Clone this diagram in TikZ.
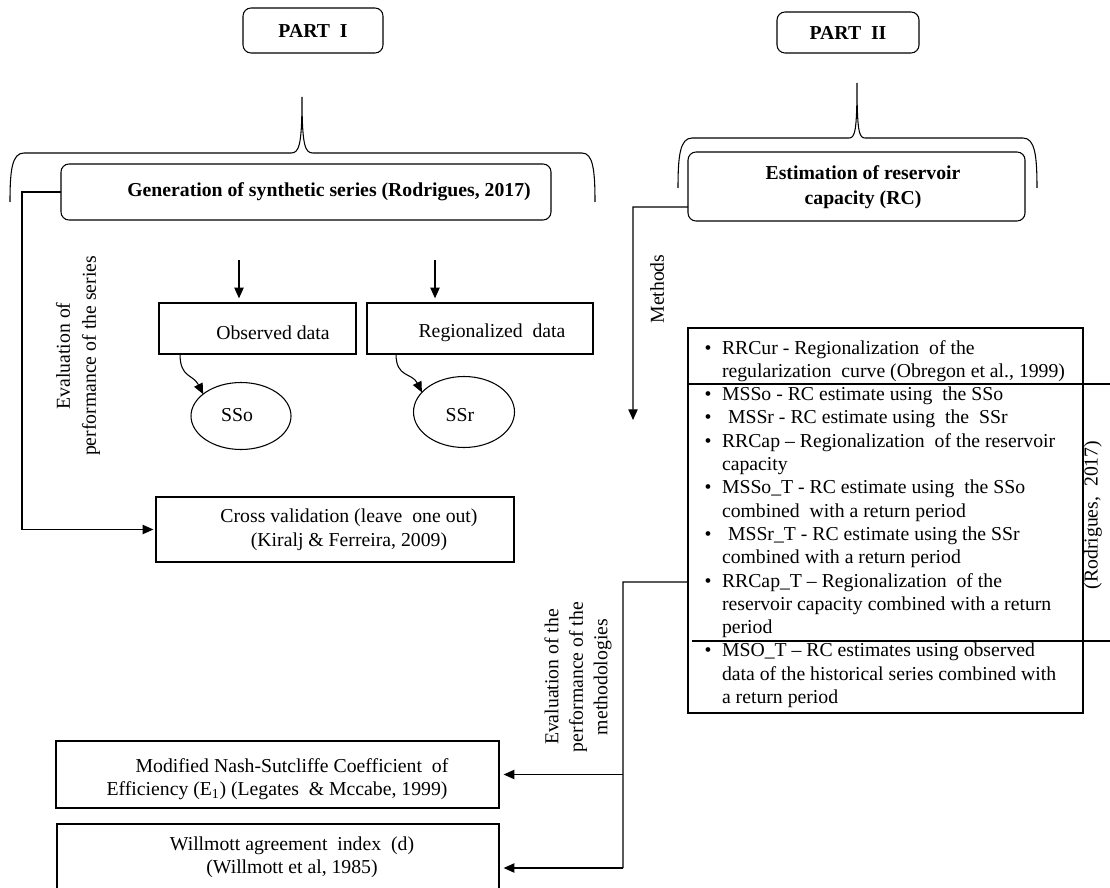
\documentclass[tikz,border=0pt]{standalone}
\usepackage{fontspec}
\setmainfont{Liberation Serif}
\usetikzlibrary{arrows.meta,shapes.geometric,calc}
\tikzset{
  every node/.style={font=\fontsize{14.8}{17.5}\selectfont, inner sep=0pt, outer sep=0pt},
  rbox/.style={draw, rounded corners=6pt, line width=0.8pt},
  sbox/.style={draw, line width=0.8pt},
  oval/.style={draw, ellipse, line width=0.8pt},
  conn/.style={line width=0.8pt},
  arr/.style={line width=0.8pt, -{Triangle[length=8pt,width=7pt]}},
  bracepath/.style={line width=0.8pt},
  bul/.style={anchor=base},
  lin/.style={anchor=base west},
}
\begin{document}
\begin{tikzpicture}[x=0.75pt,y=-0.75pt]
\useasboundingbox (0,0) rectangle (1110,888);

% ---- top boxes
\node[rbox, minimum width=105pt, minimum height=33.75pt] (p1) at (313,30.5) {\textbf{PART\ \ I}};
\node[rbox, minimum width=106.5pt, minimum height=30.75pt] (p2) at (848,32.5) {\textbf{PART\ \ II}};

% ---- braces
\draw[bracepath] (10,202) .. controls (10,170) and (12,153) .. (24,153) -- (291,153)
   .. controls (299,153) and (302,146) .. (302,97)
   .. controls (302,146) and (305,153) .. (313,153) -- (582,153)
   .. controls (593,153) and (595,170) .. (595,202);
\draw[bracepath] (678,188) .. controls (678,156) and (680,138) .. (692,138) -- (849,138)
   .. controls (855,138) and (857,131) .. (857,83)
   .. controls (857,131) and (859,138) .. (865,138) -- (1023,138)
   .. controls (1035,138) and (1037,156) .. (1037,188);

% ---- part I
\node[rbox, minimum width=367.5pt, minimum height=42pt] (gen) at (306,192) {};
\node (gentxt) at (329,192) {\textbf{Generation of synthetic series (Rodrigues, 2017)}};

\node[sbox, minimum width=147.75pt, minimum height=38.25pt] (obs) at (257.5,328.5) {};
\node (obstxt) at (273,333) {Observed data};
\node[sbox, minimum width=169.5pt, minimum height=38.25pt] (reg) at (480,328.5) {};
\node (regtxt) at (492,333) {Regionalized\ \ data};

\node[oval, minimum width=75pt, minimum height=50.25pt] (sso) at (241,416) {};
\node (ssotxt) at (237,415) {SSo};
\node[oval, minimum width=75.75pt, minimum height=53.25pt] (ssr) at (464,412) {};
\node (ssrtxt) at (460,415) {SSr};

\coordinate (a1) at (239,260);
\coordinate (a2) at (435,260);
\draw[arr, shorten >=3.5pt] (a1) -- (a1 |- obs.north);
\draw[arr, shorten >=3.5pt] (a2) -- (a2 |- reg.north);

\draw[arr] ([xshift=15.75pt]obs.south west) .. controls +(0,24) and +(-10,-20) .. (sso.150);
\draw[arr] ([xshift=21.75pt]reg.south west) .. controls +(0,24) and +(-10,-20) .. (ssr.155);

\node[sbox, minimum width=268.5pt, minimum height=48.75pt] (cv) at (335,529.5) {};
\node[align=center, font=\fontsize{14.8}{18}\selectfont] (cvtxt) at (349,530) {Cross validation (leave\ \ one out)\\(Kiralj \& Ferreira, 2009)};

\coordinate (c1) at (22,192);
\draw[arr, shorten >=2pt] (gen.west) -- (c1) |- (cv.west);
\node[rotate=90, align=center, font=\fontsize{14.8}{19.5}\selectfont] (evs) at (78,356) {Evaluation of\\performance of the series};

% ---- part II
\node[rbox, minimum width=252.75pt, minimum height=51.75pt] (est) at (856.5,186.5) {};
\node[align=center, font=\fontsize{14.8}{18.8}\selectfont] (esttxt) at (863,187) {\textbf{Estimation of reservoir}\\\textbf{capacity (RC)}};

\coordinate (m1) at (633,207);
\coordinate (m2) at (633,420);
\draw[arr] ([yshift=-15.4pt]est.west) -- (m1) -- (m2);
\node[rotate=90] (mlab) at (657,289) {Methods};

\node[sbox, minimum width=296.25pt, minimum height=288.75pt] (meth) at (885.5,520.5) {};
\draw[conn] (meth.west |- 0,384) -- (1110,384);
\draw[conn] (692,641) -- (1110,641);

\foreach \k in {1,3,4,5,7,9,11,14}{
  \node[bul] (b\k) at (708,{354+23.3*(\k-1)}) {\textbullet};
}
\node[lin] (l1) at (722,354.0) {RRCur - Regionalization\ \ of the};
\node[lin] (l2) at (722,377.3) {regularization\ \ curve (Obregon et al., 1999)};
\node[lin] (l3) at (722,400.6) {MSSo - RC estimate using\ \ the SSo};
\node[lin] (l4) at (728,423.9) {MSSr - RC estimate using\ \ the\ \ SSr};
\node[lin] (l5) at (722,447.2) {RRCap – Regionalization\ \ of the reservoir};
\node[lin] (l6) at (722,470.5) {capacity};
\node[lin] (l7) at (722,493.8) {MSSo\_T - RC estimate using\ \ the SSo};
\node[lin] (l8) at (722,517.1) {combined\ \ with a return period};
\node[lin] (l9) at (728,540.4) {MSSr\_T - RC estimate using the SSr};
\node[lin] (l10) at (722,563.7) {combined with a return period};
\node[lin] (l11) at (722,587.0) {RRCap\_T – Regionalization\ \ of the};
\node[lin] (l12) at (722,610.3) {reservoir capacity combined with a return};
\node[lin] (l13) at (722,633.6) {period};
\node[lin] (l14) at (722,656.9) {MSO\_T – RC estimates using observed};
\node[lin] (l15) at (722,680.2) {data of the historical series combined with};
\node[lin] (l16) at (722,703.5) {a return period};

\node[rotate=90] (rod) at (1093,515) {(Rodrigues,\ \ 2017)};

% ---- evaluation of methodologies
\node[sbox, minimum width=332.25pt, minimum height=50.25pt] (nash) at (277.5,774.5) {};
\node (nash1) at (292,766) {Modified Nash-Sutcliffe Coefficient\ \ of};
\node (nash2) at (277,791) {Efficiency (E\textsubscript{1}) (Legates\ \ \& Mccabe, 1999)};
\node[sbox, minimum width=331.5pt, minimum height=66pt] (will) at (278,868) {};
\node[align=center] (willtxt) at (292,857) {Willmott agreement\ \ index\ \ (d)\\(Willmott et al, 1985)};

\coordinate (e0) at (623,582);
\coordinate (e1) at (623,868);
\draw[conn] ([yshift=-46.1pt]meth.west) -- (e0) -- (e1);
\draw[arr, shorten >=3.5pt] (e0 |- nash.east) -- (nash.east);
\draw[arr, shorten >=3.5pt] (e1) -- (will.east);
\node[rotate=90, align=center, font=\fontsize{14.8}{18.4}\selectfont] (evm) at (578,677) {Evaluation of the\\performance of the\\methodologies};
\end{tikzpicture}
\end{document}
